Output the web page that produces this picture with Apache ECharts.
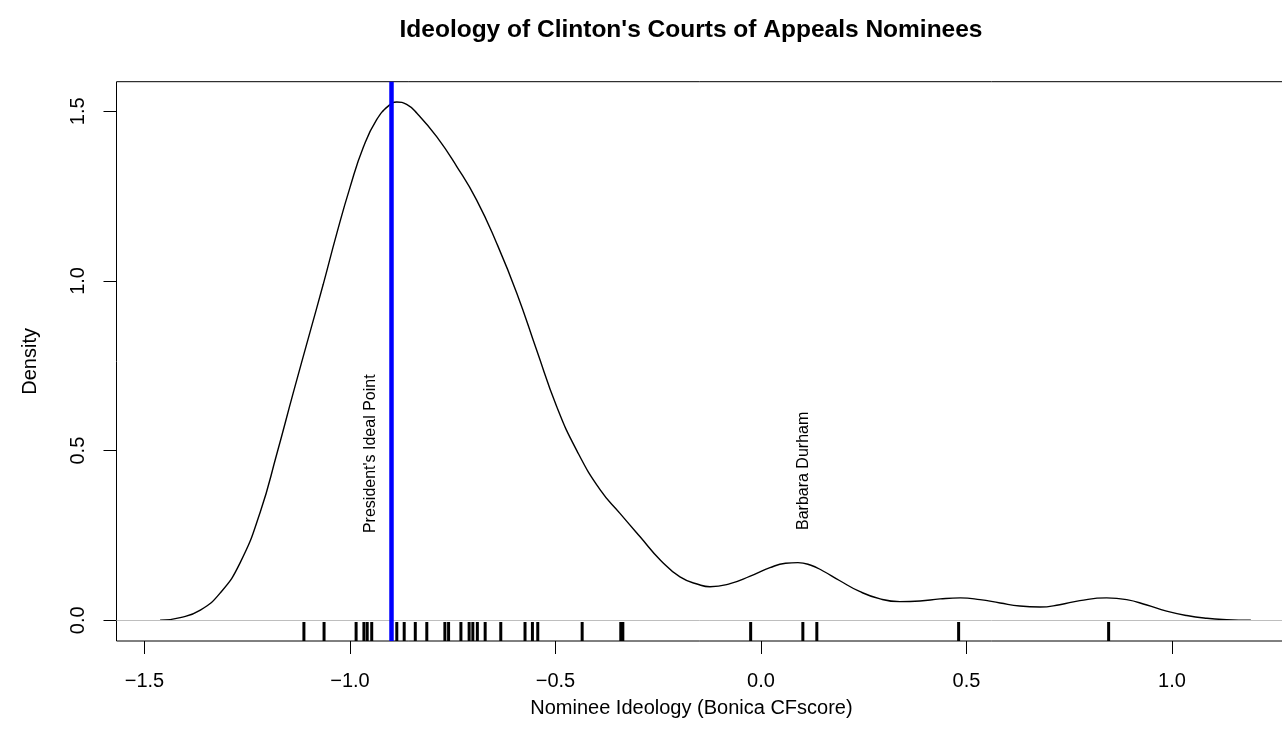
<!DOCTYPE html>
<html>
<head>
<meta charset="utf-8">
<title>Ideology of Clinton's Courts of Appeals Nominees</title>
<script src="https://cdn.jsdelivr.net/npm/echarts@6/dist/echarts.min.js"></script>
<style>
  html, body { margin: 0; padding: 0; background: #fff; }
  #chart { width: 1282px; height: 747px; }
</style>
</head>
<body>
<div id="chart"></div>
<script>
// Kernel density estimate of nominee CFscores (x = score, y = density)
const densityX = [-1.462, -1.413, -1.364, -1.316, -1.267, -1.218, -1.178, -1.138, -1.097, -1.065,
  -1.032, -1.000, -0.967, -0.935, -0.904, -0.886, -0.862, -0.837, -0.789, -0.740,
  -0.692, -0.643, -0.594, -0.546, -0.497, -0.448, -0.391, -0.343, -0.294, -0.245,
  -0.197, -0.148, -0.124, -0.075, -0.026, 0.022, 0.060, 0.090, 0.120, 0.150,
  0.190, 0.240, 0.290, 0.338, 0.387, 0.436, 0.485, 0.533, 0.582, 0.630,
  0.679, 0.727, 0.776, 0.841, 0.890, 0.939, 0.987, 1.036, 1.085, 1.133, 1.192];
const densityY = [0.000, 0.008, 0.030, 0.080, 0.170, 0.320, 0.490, 0.670, 0.850, 0.990,
  1.140, 1.275, 1.395, 1.475, 1.518, 1.527, 1.520, 1.494, 1.425, 1.337,
  1.239, 1.111, 0.964, 0.797, 0.630, 0.500, 0.384, 0.315, 0.246, 0.178,
  0.128, 0.104, 0.099, 0.108, 0.130, 0.155, 0.168, 0.170, 0.163, 0.146,
  0.118, 0.085, 0.063, 0.055, 0.057, 0.063, 0.066, 0.061, 0.051, 0.042,
  0.039, 0.046, 0.058, 0.066, 0.061, 0.045, 0.027, 0.014, 0.006, 0.002, 0.000];

// Individual nominee scores (rug)
const nomineeScores = [-1.112, -1.063, -0.985, -0.966, -0.958, -0.947, -0.886, -0.868, -0.841, -0.813,
  -0.769, -0.760, -0.730, -0.710, -0.701, -0.690, -0.671, -0.633, -0.574, -0.556,
  -0.543, -0.435, -0.341, -0.336, -0.025, 0.102, 0.136, 0.481, 0.846];

const presidentIdealPoint = -0.9;
const annotations = [
  { text: "President's Ideal Point", x: -0.950, y: 0.257 },
  { text: 'Barbara Durham', x: 0.103, y: 0.266 }
];

const xTicks = [-1.5, -1.0, -0.5, 0.0, 0.5, 1.0];
const yTicks = [0.0, 0.5, 1.0, 1.5];
const xRange = [-1.568, 1.298];
const yRange = [-0.061, 1.587];

const FONT = '"Liberation Sans", Arial, Helvetica, sans-serif';
const fmt = v => (v < 0 ? '\u2212' + Math.abs(v).toFixed(1) : Math.abs(v).toFixed(1));

const chart = echarts.init(document.getElementById('chart'), null, { renderer: 'canvas' });

const option = {
  animation: false,
  backgroundColor: '#ffffff',
  textStyle: { fontFamily: FONT },
  grid: {
    left: 116.5, top: 81.7, right: -12.4, bottom: 106,
    show: true, borderColor: '#000', borderWidth: 1,
    containLabel: false, outerBoundsMode: 'none'
  },
  xAxis: {
    type: 'value', min: xRange[0], max: xRange[1],
    name: 'Nominee Ideology (Bonica CFscore)',
    nameLocation: 'middle', nameGap: 57,
    nameTextStyle: { fontFamily: FONT, fontSize: 20, color: '#000', padding: [0, 28, 0, 0] },
    splitLine: { show: false },
    axisLine: { show: false, onZero: false },
    axisTick: { show: true, inside: false, length: 13, customValues: xTicks, lineStyle: { color: '#000', width: 1 } },
    axisLabel: { customValues: xTicks, formatter: fmt, margin: 30, fontFamily: FONT, fontSize: 20, color: '#000' }
  },
  yAxis: {
    type: 'value', min: yRange[0], max: yRange[1],
    name: 'Density',
    nameLocation: 'middle', nameGap: 76,
    nameTextStyle: { fontFamily: FONT, fontSize: 20, color: '#000' },
    splitLine: { show: false },
    axisLine: { show: false, onZero: false },
    axisTick: { show: true, inside: false, length: 13, customValues: yTicks, lineStyle: { color: '#000', width: 1 } },
    axisLabel: { customValues: yTicks, formatter: fmt, rotate: 90, margin: 28, fontFamily: FONT, fontSize: 20, color: '#000' }
  },
  series: [
    {
      name: 'density', type: 'line',
      data: densityX.map((x, i) => [x, densityY[i]]),
      smooth: 0.5, showSymbol: false, symbol: 'none', clip: true,
      lineStyle: { color: '#000', width: 1.4 },
      markLine: {
        silent: true, symbol: 'none', label: { show: false },
        lineStyle: { color: '#bebebe', width: 1, type: 'solid' },
        data: [{ yAxis: 0 }]
      },
      z: 3
    },
    {
      name: 'rug', type: 'custom',
      data: nomineeScores.map(v => [v]),
      encode: { x: 0 },
      renderItem: function (params, api) {
        const cs = params.coordSys;
        const x = api.coord([api.value(0), 0])[0];
        const yb = cs.y + cs.height;
        return {
          type: 'line',
          shape: { x1: x, y1: yb - 0.034 * cs.height, x2: x, y2: yb },
          style: { stroke: '#000', lineWidth: 3 }
        };
      },
      z: 4
    },
    {
      name: 'ideal', type: 'line', data: [],
      markLine: {
        silent: true, symbol: 'none', label: { show: false },
        lineStyle: { color: '#0000ff', width: 4.5, type: 'solid' },
        data: [{ xAxis: presidentIdealPoint }]
      },
      z: 6
    }
  ]
};

chart.setOption(option);

// Title and rotated annotations placed through the chart's own coordinate conversion
const graphics = [{
  type: 'text',
  x: 691, y: 30,
  style: {
    text: "Ideology of Clinton's Courts of Appeals Nominees",
    font: 'bold 24.5px ' + FONT, fill: '#000',
    textAlign: 'center', textVerticalAlign: 'middle'
  },
  z: 10
}];
annotations.forEach(a => {
  const p = chart.convertToPixel({ gridIndex: 0 }, [a.x, a.y]);
  graphics.push({
    type: 'text', x: p[0], y: p[1], rotation: Math.PI / 2,
    style: {
      text: a.text, font: '16px ' + FONT, fill: '#000',
      textAlign: 'left', textVerticalAlign: 'middle'
    },
    z: 10
  });
});
chart.setOption({ graphic: graphics });
</script>
</body>
</html>
